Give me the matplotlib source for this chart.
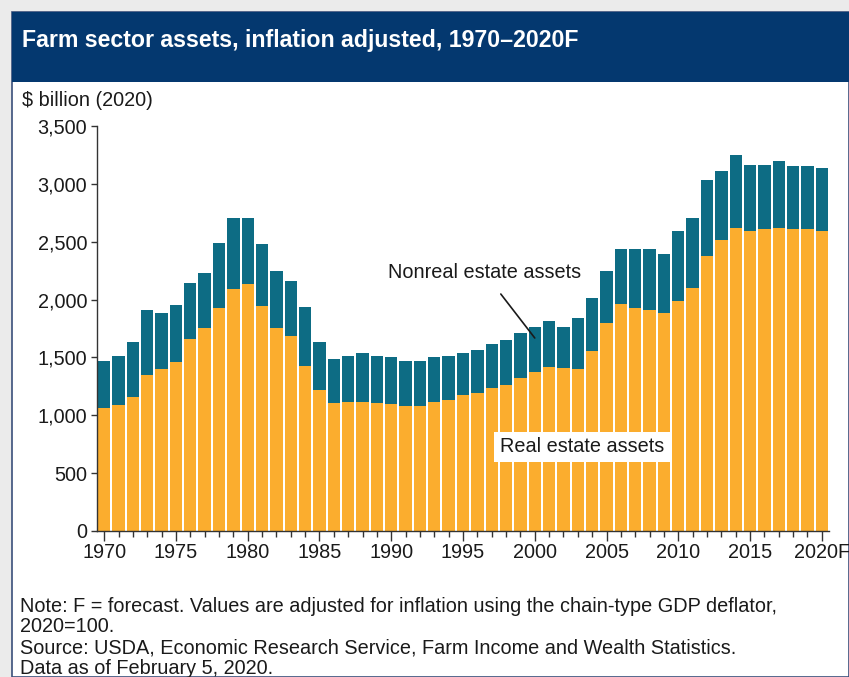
import matplotlib
matplotlib.use("Agg")
import matplotlib.pyplot as plt
from matplotlib.patches import Rectangle
from matplotlib.ticker import FuncFormatter, MultipleLocator

years = list(range(1970, 2021))
real_estate = [1063, 1092, 1158, 1352, 1401, 1464, 1661, 1753, 1930, 2088,
               2132, 1944, 1753, 1684, 1424, 1222, 1106, 1112, 1112, 1106,
               1100, 1077, 1077, 1112, 1135, 1178, 1193, 1236, 1265, 1323,
               1375, 1418, 1405, 1401, 1554, 1800, 1958, 1930, 1909, 1886,
               1987, 2103, 2377, 2516, 2617, 2594, 2608, 2617, 2608, 2608,
               2594]
total_assets = [1467, 1516, 1635, 1906, 1886, 1952, 2146, 2233, 2493, 2709,
                2709, 2478, 2244, 2158, 1938, 1635, 1487, 1516, 1534, 1516,
                1502, 1467, 1467, 1505, 1516, 1534, 1563, 1618, 1649, 1707,
                1765, 1814, 1764, 1843, 2016, 2247, 2435, 2435, 2435, 2392,
                2594, 2709, 3036, 3114, 3250, 3163, 3163, 3200, 3151, 3157,
                3134]
nonreal_estate = [t - r for t, r in zip(total_assets, real_estate)]
xtick_years = list(range(1970, 2021, 5))
xtick_labels = [str(y) for y in xtick_years[:-1]] + ["2020F"]

title = "Farm sector assets, inflation adjusted, 1970\u20132020F"
note_lines = [
    "Note: F = forecast. Values are adjusted for inflation using the chain-type GDP deflator,",
    "2020=100.",
    "Source: USDA, Economic Research Service, Farm Income and Wealth Statistics.",
    "Data as of February 5, 2020.",
]

W, H = 849, 677
FS = 14.3
plt.rcParams['font.family'] = ['Liberation Sans', 'DejaVu Sans']
fig = plt.figure(figsize=(W / 100, H / 100), dpi=100, facecolor='#ebebeb')

def fx(px):
    return px / W

def fy(py):
    return 1 - py / H

# white panel and navy header
fig.patches.append(Rectangle((fx(12), 0), 1 - fx(12), fy(12), transform=fig.transFigure,
                             facecolor='white', edgecolor='#3a4f7a', linewidth=1.2, zorder=-2))
fig.patches.append(Rectangle((fx(12), fy(82)), 1 - fx(12), fy(12) - fy(82), transform=fig.transFigure,
                             facecolor='#04386f', edgecolor='none', zorder=-1))
fig.text(fx(22), fy(40), title, color='white', fontsize=16.7, fontweight='bold',
         va='center', ha='left')

ax = fig.add_axes([fx(97), fy(531), fx(829) - fx(97), fy(126) - fy(531)])
ax.set_facecolor('none')

orange = '#FBAD2E'
teal = '#0D6C84'
ax.bar(years, real_estate, width=0.86, color=orange, edgecolor='none')
ax.bar(years, nonreal_estate, width=0.86, bottom=real_estate, color=teal, edgecolor='none')

ax.set_xlim(1969.5, 2020.5)
ax.set_ylim(0, 3500)
ax.yaxis.set_major_locator(MultipleLocator(500))
ax.yaxis.set_major_formatter(FuncFormatter(lambda v, p: f"{int(v):,}"))
ax.set_xticks(xtick_years)
ax.set_xticklabels(xtick_labels)
ax.xaxis.set_minor_locator(MultipleLocator(1))

for s in ['top', 'right']:
    ax.spines[s].set_visible(False)
for s in ['left', 'bottom']:
    ax.spines[s].set_color('#333333')
    ax.spines[s].set_linewidth(1.0)
ax.tick_params(axis='y', direction='out', length=4, width=1, color='#333333',
               labelsize=FS, labelcolor='#1a1a1a', pad=3)
ax.tick_params(axis='x', which='major', direction='out', length=7, width=1, color='#333333',
               labelsize=FS, labelcolor='#1a1a1a', pad=2)
ax.tick_params(axis='x', which='minor', direction='out', length=4, width=1, color='#333333')

fig.text(fx(22), fy(101), "$ billion (2020)", fontsize=FS, color='#1a1a1a', va='center', ha='left')

ax.annotate("Nonreal estate assets", xy=(2000, 1668), xytext=(1996.5, 2230),
            fontsize=FS, color='#1a1a1a', ha='center', va='center',
            arrowprops=dict(arrowstyle='-', color='#1a1a1a', lw=1.2,
                            shrinkA=8, shrinkB=0))
ax.text(2003.3, 726, "Real estate assets", fontsize=FS, color='#1a1a1a',
        ha='center', va='center',
        bbox=dict(boxstyle='square,pad=0.3', facecolor='white', edgecolor='none'))

for i, line in enumerate(note_lines):
    fig.text(fx(20), fy(606 + i * 20.8), line, fontsize=FS, color='#1a1a1a',
             va='center', ha='left')

fig.savefig('out.png', dpi=100, facecolor=fig.get_facecolor())
